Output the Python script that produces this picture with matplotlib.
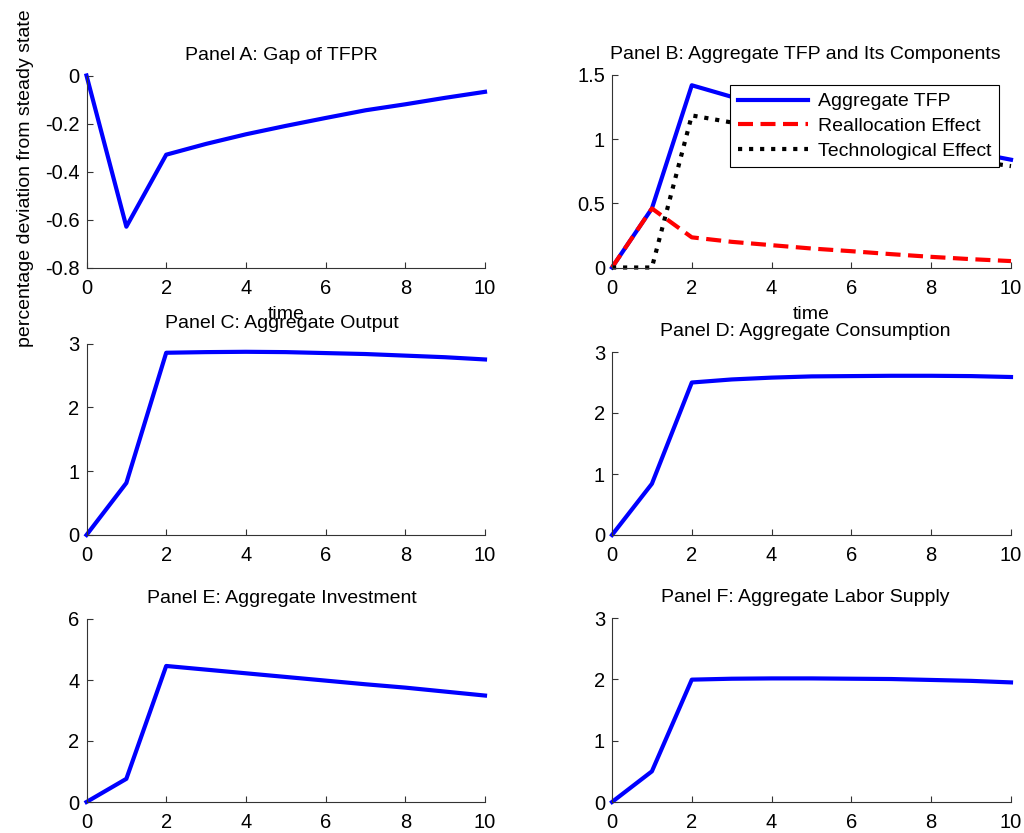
# impulse responses to a TFP shock, six panels

import numpy as np
import matplotlib.pyplot as plt

plt.rcParams['font.family'] = ['Liberation Sans', 'DejaVu Sans']

t = [0, 1, 2, 3, 4, 5, 6, 7, 8, 9, 10]  # time

tfpr_gap = [0, -0.63, -0.33, -0.285, -0.245, -0.21, -0.177, -0.145, -0.12, -0.093, -0.068]

tfp_agg = [0, 0.46, 1.42, 1.33, 1.25, 1.18, 1.11, 1.04, 0.97, 0.90, 0.84]
realloc = [0, 0.46, 0.235, 0.20, 0.174, 0.148, 0.127, 0.104, 0.083, 0.065, 0.05]
techno = [0, 0, 1.185, 1.13, 1.076, 1.03, 0.98, 0.935, 0.885, 0.835, 0.79]

output = [0, 0.815, 2.855, 2.865, 2.87, 2.865, 2.85, 2.835, 2.81, 2.785, 2.75]
consumption = [0, 0.84, 2.5, 2.55, 2.58, 2.6, 2.605, 2.61, 2.61, 2.605, 2.59]
investment = [0, 0.76, 4.46, 4.34, 4.22, 4.1, 3.98, 3.86, 3.75, 3.62, 3.49]
labor = [0, 0.5, 1.995, 2.01, 2.015, 2.015, 2.01, 2.005, 1.99, 1.975, 1.95]

W, H = 1024, 833
fig = plt.figure(figsize=(W/100, H/100), dpi=100)

def axes_px(left, top, right, bottom):
    return fig.add_axes([left/W, 1-bottom/H, (right-left)/W, (bottom-top)/H])

def style(ax, ylim, yticks):
    ax.set_xlim(0, 10)
    ax.set_xticks([0, 2, 4, 6, 8, 10])
    ax.set_ylim(*ylim)
    ax.set_yticks(yticks)
    ax.spines['top'].set_visible(False)
    ax.spines['right'].set_visible(False)
    for s in ['left', 'bottom']:
        ax.spines[s].set_color('0.2')
        ax.spines[s].set_linewidth(0.8)
    ax.tick_params(direction='in', length=4, width=0.8, color='0.2', labelsize=14.5)
    ax.tick_params(axis='x', pad=8)
    ax.tick_params(axis='y', pad=5)

fs_title = 14
lw = 3
tpad = 11.5

axA = axes_px(86.5, 75.5, 485, 267.5)
axA.plot(t, tfpr_gap, color='b', linewidth=lw)
style(axA, (-0.8, 0), [-0.8, -0.6, -0.4, -0.2, 0])
axA.set_yticklabels(['-0.8', '-0.6', '-0.4', '-0.2', '0'])
axA.set_title('Panel A: Gap of TFPR', fontsize=fs_title, pad=tpad, x=0.49)
axA.set_xlabel('time', fontsize=fs_title, labelpad=6)
axA.set_ylabel('percentage deviation from steady state', fontsize=fs_title)
axA.yaxis.set_label_coords(-0.132, 0.466)

axB = axes_px(612, 75, 1011, 267.5)
axB.plot(t, tfp_agg, color='b', linewidth=lw, label='Aggregate TFP')
axB.plot(t, realloc, color='r', linestyle='--', dashes=(3.6, 1.8), linewidth=lw, label='Reallocation Effect')
axB.plot(t, techno, color='k', linestyle=':', linewidth=lw, label='Technological Effect')
style(axB, (0, 1.5), [0, 0.5, 1, 1.5])
axB.set_yticklabels(['0', '0.5', '1', '1.5'])
axB.set_title('Panel B: Aggregate TFP and Its Components', fontsize=fs_title, pad=tpad, x=0.485)
axB.set_xlabel('time', fontsize=fs_title, labelpad=6)
leg = axB.legend(loc='upper right', bbox_to_anchor=(999/W, 1-85/H), bbox_transform=fig.transFigure,
                 borderaxespad=0, fontsize=14, handlelength=3.6, fancybox=False,
                 framealpha=1, edgecolor='k', borderpad=0.4, labelspacing=0.36, handletextpad=0.5)
leg.get_frame().set_linewidth(0.8)

axC = axes_px(86.5, 343.5, 485, 535)
axC.plot(t, output, color='b', linewidth=lw)
style(axC, (0, 3), [0, 1, 2, 3])
axC.set_title('Panel C: Aggregate Output', fontsize=fs_title, pad=tpad, x=0.49)

axD = axes_px(612, 352, 1011, 535)
axD.plot(t, consumption, color='b', linewidth=lw)
style(axD, (0, 3), [0, 1, 2, 3])
axD.set_title('Panel D: Aggregate Consumption', fontsize=fs_title, pad=tpad, x=0.485)

axE = axes_px(86.5, 619, 485, 802)
axE.plot(t, investment, color='b', linewidth=lw)
style(axE, (0, 6), [0, 2, 4, 6])
axE.set_title('Panel E: Aggregate Investment', fontsize=fs_title, pad=tpad, x=0.49)

axF = axes_px(612, 618, 1011, 802)
axF.plot(t, labor, color='b', linewidth=lw)
style(axF, (0, 3), [0, 1, 2, 3])
axF.set_title('Panel F: Aggregate Labor Supply', fontsize=fs_title, pad=tpad, x=0.485)

for ax in [axA, axB, axC, axD, axE, axF]:
    for line in ax.get_lines():
        line.set_clip_on(False)

fig.savefig('out.png', dpi=100)
